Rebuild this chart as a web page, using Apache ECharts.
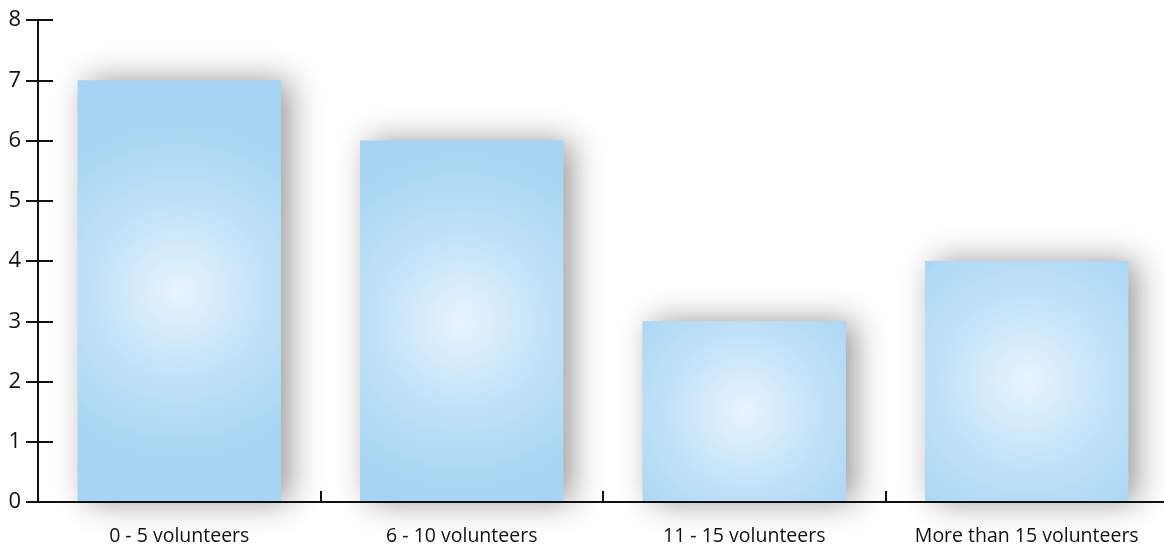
<!DOCTYPE html>
<html>
<head>
<meta charset="utf-8">
<script src="https://cdn.jsdelivr.net/npm/echarts@6/dist/echarts.min.js"></script>
<style>
  html, body { margin: 0; padding: 0; background: #fff; overflow: hidden; }
  /* a few pixels wider than the page so the closing axis tick sits past the edge */
  #chart { width: 1168px; height: 550px; }
</style>
</head>
<body>
<div id="chart"></div>
<script>
// Number of groups by volunteer count
const categories = ['0 - 5 volunteers', '6 - 10 volunteers', '11 - 15 volunteers', 'More than 15 volunteers'];
const counts = [7, 6, 3, 4];
const yTicks = [0, 1, 2, 3, 4, 5, 6, 7, 8];

const FONT = '"Open Sans", "Noto Sans", sans-serif';

const barFill = {
  type: 'radial', x: 0.5, y: 0.5, r: 0.85,
  colorStops: [
    { offset: 0, color: '#e8f4fd' },
    { offset: 0.5, color: '#c0e2f8' },
    { offset: 1, color: '#a6d4f2' }
  ]
};

const chart = echarts.init(document.getElementById('chart'));
chart.setOption({
  animation: false,
  grid: { left: 38, right: 0, top: 20, bottom: 48 },
  xAxis: {
    type: 'category',
    data: categories,
    axisLine: { show: true, lineStyle: { color: '#111', width: 2 } },
    axisTick: {
      show: true, interval: 0, inside: true, length: 11,
      lineStyle: { color: '#111', width: 2 }
    },
    axisLabel: {
      color: '#111', fontSize: 19.5, fontFamily: FONT, margin: 24,
      interval: 0, hideOverlap: false
    },
    z: 5
  },
  yAxis: [
    {
      type: 'value',
      min: yTicks[0],
      max: yTicks[yTicks.length - 1],
      interval: 1,
      axisLine: { show: true, lineStyle: { color: '#111', width: 2 } },
      axisTick: { show: true, length: 12, lineStyle: { color: '#111', width: 2 } },
      axisLabel: { color: '#111', fontSize: 22, fontFamily: FONT, margin: 17 },
      splitLine: { show: false }
    },
    {
      // inner half of the crossing tick marks
      type: 'value',
      position: 'left',
      min: yTicks[0],
      max: yTicks[yTicks.length - 1],
      interval: 1,
      axisLine: { show: false },
      axisTick: { show: true, inside: true, length: 15, lineStyle: { color: '#111', width: 2 } },
      axisLabel: { show: false },
      splitLine: { show: false }
    }
  ],
  series: [{
    type: 'bar',
    data: counts,
    barWidth: '72%',
    itemStyle: {
      color: barFill,
      shadowColor: 'rgba(0,0,0,0.4)',
      shadowBlur: 30,
      shadowOffsetX: 9,
      shadowOffsetY: 0
    }
  }]
});
</script>
</body>
</html>
